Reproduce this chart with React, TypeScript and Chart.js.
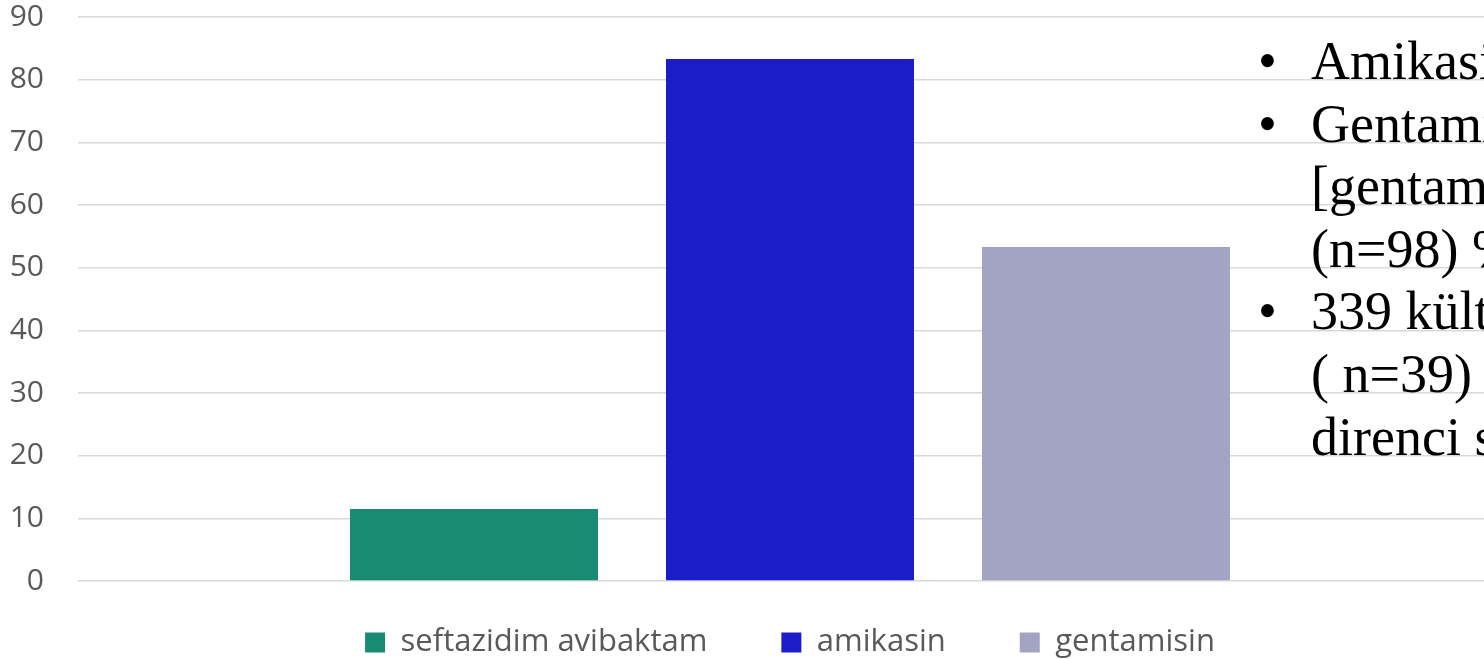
import React, { useEffect, useRef } from "react";
import { Chart, registerables } from "chart.js";

Chart.register(...registerables);

// ---- data ----
const categories = [""];
const seriesNames = ["seftazidim avibaktam", "amikasin", "gentamisin"];
const seftazidimValues = [11.5];
const amikasinValues = [83.3];
const gentamisinValues = [53.3];
const yMin = 0;
const yMax = 90;
const yStep = 10;

// overlay text (visible part of the slide text)
const overlayLines = [
  { bullet: true, text: "Amikasi" },
  { bullet: true, text: "Gentami" },
  { bullet: false, text: "[gentam" },
  { bullet: false, text: "(n=98) %" },
  { bullet: true, text: "339 kült" },
  { bullet: false, text: "( n=39) \u2013" },
  { bullet: false, text: "direnci s" },
];

const seriesColors = ["#188C73", "#1C1DC8", "#A3A3C3"];
const textGray = "#595959";

const LEGEND_SHIFT_Y = 28;

const legendShiftPlugin = {
  id: "legendShift",
  afterLayout(chart: any) {
    const lg = chart.legend;
    const ca = chart.chartArea;
    if (lg && ca) {
      lg.top -= LEGEND_SHIFT_Y;
      lg.height = lg.bottom - lg.top;
      // center legend under the plot area
      const w = lg.right - lg.left;
      const cx = (ca.left + ca.right) / 2;
      lg.left = cx - w / 2;
      lg.right = cx + w / 2;
    }
  },
};

export default function App() {
  const canvasRef = useRef<HTMLCanvasElement | null>(null);

  useEffect(() => {
    if (!canvasRef.current) return;
    const valuesList = [seftazidimValues, amikasinValues, gentamisinValues];
    const chart = new Chart(canvasRef.current, {
      type: "bar",
      data: {
        labels: categories,
        datasets: seriesNames.map((name, i) => ({
          label: name,
          data: valuesList[i],
          backgroundColor: seriesColors[i],
          borderWidth: 0,
          categoryPercentage: 0.6657,
          barPercentage: 0.7848,
        })),
      },
      options: {
        responsive: false,
        animation: false,
        devicePixelRatio: 1,
        layout: { padding: { top: 17, left: 0, right: 0, bottom: 0 } },
        scales: {
          x: {
            display: false,
          },
          y: {
            min: yMin,
            max: yMax,
            border: { display: false },
            grid: {
              color: "#d9d9d9",
              lineWidth: 1.5,
              drawTicks: false,
            },
            ticks: {
              stepSize: yStep,
              padding: 34,
              color: textGray,
              font: { family: "'Open Sans'", size: 30, lineHeight: 1.1 },
            },
            afterFit(scale: any) {
              scale.width = 78;
              scale.paddingTop = 0;
              scale.paddingBottom = 0;
            },
          },
        },
        plugins: {
          tooltip: { enabled: false },
          legend: {
            position: "bottom",
            maxHeight: 78,
            labels: {
              boxWidth: 20,
              boxHeight: 20,
              padding: 74,
              color: textGray,
              font: { family: "'Open Sans'", size: 31 },
            },
          },
        },
      },
      plugins: [legendShiftPlugin],
    } as any);
    return () => chart.destroy();
  }, []);

  return (
    <div
      style={{
        position: "absolute",
        left: 0,
        top: 0,
        width: 1484,
        height: 659,
        overflow: "hidden",
        background: "#ffffff",
      }}
    >
      <canvas
        ref={canvasRef}
        width={1502}
        height={659}
        style={{ display: "block", width: 1502, height: 659 }}
      />
      <div
        style={{
          position: "absolute",
          left: 0,
          top: 30,
          width: 1484,
          fontFamily: "'Liberation Serif', 'Times New Roman', serif",
          fontSize: 54,
          lineHeight: "62.6px",
          color: "#000000",
          whiteSpace: "nowrap",
          pointerEvents: "none",
        }}
      >
        {overlayLines.map((ln, i) => (
          <div key={i} style={{ position: "relative", height: 62.6 }}>
            {ln.bullet && (
              <span style={{ position: "absolute", left: 1258 }}>{"\u2022"}</span>
            )}
            <span style={{ position: "absolute", left: 1311 }}>{ln.text}</span>
          </div>
        ))}
      </div>
    </div>
  );
}
